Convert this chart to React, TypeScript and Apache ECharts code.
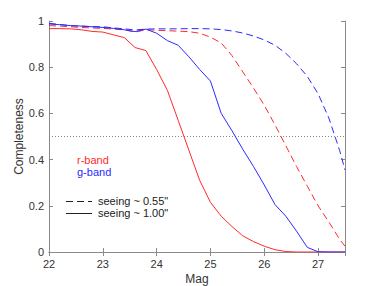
import React, { useEffect, useRef } from "react";
import * as echarts from "echarts";

const mags = [22.0, 22.2, 22.4, 22.6, 22.8, 23.0, 23.2, 23.4, 23.6, 23.8, 24.0, 24.2, 24.4, 24.6, 24.8, 25.0, 25.2, 25.4, 25.6, 25.8, 26.0, 26.2, 26.4, 26.6, 26.8, 27.0, 27.2, 27.4, 27.5];

const rGood = [0.98, 0.978, 0.975, 0.972, 0.97, 0.968, 0.965, 0.962, 0.952, 0.962, 0.96, 0.958, 0.956, 0.954, 0.947, 0.93, 0.905, 0.85, 0.78, 0.71, 0.635, 0.55, 0.46, 0.37, 0.285, 0.2, 0.13, 0.055, 0.025];
const gGood = [0.99, 0.985, 0.98, 0.978, 0.976, 0.975, 0.97, 0.966, 0.961, 0.965, 0.966, 0.966, 0.966, 0.967, 0.967, 0.966, 0.963, 0.957, 0.948, 0.935, 0.918, 0.895, 0.86, 0.815, 0.76, 0.685, 0.58, 0.44, 0.355];
const rBad = [0.967, 0.967, 0.966, 0.962, 0.955, 0.952, 0.94, 0.928, 0.885, 0.872, 0.79, 0.7, 0.57, 0.44, 0.31, 0.215, 0.155, 0.11, 0.07, 0.045, 0.025, 0.01, 0.002, 0, 0, 0, 0, 0, 0];
const gBad = [0.987, 0.984, 0.98, 0.978, 0.975, 0.972, 0.968, 0.962, 0.954, 0.965, 0.947, 0.915, 0.895, 0.845, 0.79, 0.74, 0.6, 0.525, 0.445, 0.37, 0.29, 0.205, 0.155, 0.09, 0.02, 0.001, 0, 0, 0];

const halfLine = [[22, 0.5], [27.5, 0.5]];

const xTicks = { min: 22, max: 27.5, interval: 1 };
const yTicks = { min: 0, max: 1, interval: 0.2 };

const RED = "#ff2a2a";
const BLUE = "#2a2aff";
const AXIS = "#8a8a8a";
const TEXT = "#333333";
const FONT = "Liberation Sans, Arial, sans-serif";

const zip = (vals: number[]) => mags.map((m, i) => [m, vals[i]]);

export default function App() {
  const ref = useRef<HTMLDivElement>(null);
  useEffect(() => {
    if (!ref.current) return;
    const chart = echarts.init(ref.current, undefined, { renderer: "svg" });
    const lineSeries = (name: string, vals: number[], color: string, dashed: boolean) => ({
      name,
      type: "line",
      data: zip(vals),
      showSymbol: false,
      symbol: "none",
      lineStyle: { color, width: 1, type: dashed ? [7, 4] : "solid" },
      xAxisIndex: 0,
      yAxisIndex: 0,
    });
    chart.setOption({
      animation: false,
      textStyle: { fontFamily: FONT },
      grid: { left: 49, right: 37, top: 21, bottom: 34, containLabel: false, outerBoundsMode: "none" },
      xAxis: [
        {
          type: "value",
          ...xTicks,
          name: "Mag",
          nameLocation: "middle",
          nameGap: 21,
          nameMoveOverlap: false,
          nameTextStyle: { color: TEXT, fontSize: 12, fontFamily: FONT },
          axisLine: { lineStyle: { color: AXIS } },
          axisTick: { inside: true, length: 4, lineStyle: { color: AXIS } },
          axisLabel: { color: TEXT, fontSize: 11, margin: 6, fontFamily: FONT, showMaxLabel: false },
          splitLine: { show: false },
        },
        {
          type: "value",
          position: "top",
          ...xTicks,
          axisLine: { lineStyle: { color: AXIS } },
          axisTick: { inside: true, length: 4, lineStyle: { color: AXIS } },
          axisLabel: { show: false },
          splitLine: { show: false },
        },
      ],
      yAxis: [
        {
          type: "value",
          ...yTicks,
          name: "Completeness",
          nameLocation: "middle",
          nameGap: 24,
          nameMoveOverlap: false,
          nameTextStyle: { color: TEXT, fontSize: 12, fontFamily: FONT },
          axisLine: { show: true, lineStyle: { color: AXIS } },
          axisTick: { show: true, inside: true, length: 4, lineStyle: { color: AXIS } },
          axisLabel: { color: TEXT, fontSize: 11, margin: 5, fontFamily: FONT },
          splitLine: { show: false },
        },
        {
          type: "value",
          position: "right",
          ...yTicks,
          axisLine: { show: true, lineStyle: { color: AXIS } },
          axisTick: { show: true, inside: true, length: 4, lineStyle: { color: AXIS } },
          axisLabel: { show: false },
          splitLine: { show: false },
        },
      ],
      series: [
        {
          type: "line",
          data: halfLine,
          symbol: "none",
          lineStyle: { color: "#888888", width: 1, type: [1, 2] },
        },
        lineSeries("r 0.55", rGood, RED, true),
        lineSeries("g 0.55", gGood, BLUE, true),
        lineSeries("r 1.00", rBad, RED, false),
        lineSeries("g 1.00", gBad, BLUE, false),
      ],
      graphic: [
        { type: "text", left: 77, top: 154, style: { text: "r-band", fill: RED, font: `11px ${FONT}` } },
        { type: "text", left: 77, top: 166, style: { text: "g-band", fill: BLUE, font: `11px ${FONT}` } },
        { type: "line", shape: { x1: 66, y1: 201.5, x2: 92, y2: 201.5 }, style: { stroke: "#222", lineWidth: 1, lineDash: [7, 4] } },
        { type: "line", shape: { x1: 66, y1: 213.5, x2: 92, y2: 213.5 }, style: { stroke: "#222", lineWidth: 1 } },
        { type: "text", left: 98, top: 195, style: { text: "seeing ~ 0.55\"", fill: "#222", font: `11px ${FONT}` } },
        { type: "text", left: 98, top: 207, style: { text: "seeing ~ 1.00\"", fill: "#222", font: `11px ${FONT}` } },
      ],
    });
    return () => chart.dispose();
  }, []);
  return <div ref={ref} style={{ width: 382, height: 286, position: "absolute", left: 0, top: 0 }} />;
}
